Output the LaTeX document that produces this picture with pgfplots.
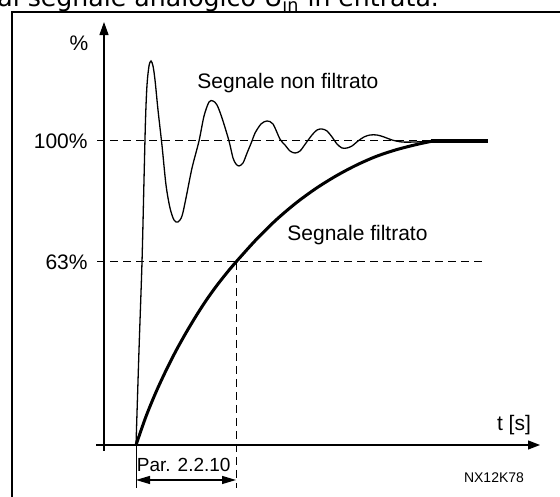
\documentclass[border=0pt]{standalone}
\usepackage{pgfplots}
\pgfplotsset{compat=1.18}
\usetikzlibrary{arrows.meta}
\usepackage{fontspec}
\setmainfont{Liberation Sans}
\newfontfamily\dejavu{DejaVu Sans}
\begin{document}
\begin{tikzpicture}
\useasboundingbox (0,0) rectangle (280pt,248pt);
\clip (0,0) rectangle (280pt,248pt);
\fill[white] (0,0) rectangle (280pt,248pt);
\begin{axis}[
  at={(0,0)}, anchor=south west,
  scale only axis, width=280pt, height=248pt,
  xmin=-1.36, xmax=4.24, ymin=-16.776, ymax=146.382,
  hide axis, clip=false,
]
% unfiltered signal
\addplot[black, line width=0.65pt, smooth, tension=0.5] coordinates {
(0,0) (0.03,31.25) (0.06,60.20) (0.08,87.17) (0.095,106.91) (0.11,118.42)
(0.13,124.67) (0.15,126.32) (0.17,124.67) (0.19,120.07) (0.22,110.20)
(0.26,98.5) (0.30,85.53) (0.34,77.96) (0.38,74.01) (0.42,73.36) (0.46,75.33)
(0.50,81.25) (0.56,91.1) (0.63,100) (0.68,108.2) (0.73,112.83) (0.77,113.16)
(0.81,111.84) (0.86,107.57) (0.93,100) (0.97,94.41) (1.00,92.43) (1.03,91.78)
(1.07,92.76) (1.11,96.0) (1.16,100) (1.19,102.6) (1.25,105.59) (1.31,106.58)
(1.37,105.59) (1.44,100.6) (1.49,98.68) (1.54,96.71) (1.59,96.05) (1.64,96.71)
(1.70,99.34) (1.76,101.97) (1.81,103.62) (1.86,103.95) (1.91,103.29)
(1.96,101.32) (2.01,99.01) (2.06,97.70) (2.11,97.70) (2.16,98.36) (2.22,100)
(2.28,101.32) (2.34,101.97) (2.41,101.97) (2.48,101.32) (2.56,100.33)
(2.66,99.67) (2.79,99.67) (2.97,100)
};
% filtered signal
\addplot[black, line width=1.5pt, smooth, tension=0.5] coordinates {
(0,0) (0.1,9.4) (0.2,17.4) (0.3,24.5) (0.4,31.0) (0.5,36.9) (0.6,42.4)
(0.7,47.5) (0.8,52.1) (0.9,56.3) (1.0,60.2) (1.2,67.5) (1.4,74.0) (1.6,79.6)
(1.8,84.4) (2.0,88.5) (2.2,92.0) (2.4,94.9) (2.6,97.1) (2.8,98.8) (2.97,100)
};
% settled value
\addplot[black, line width=2pt] coordinates {(2.95,100) (3.52,100)};
% axes
\draw[line width=0.6pt, -{Triangle[length=6.5pt,width=4.5pt]}] (axis cs:-0.32,-1.97) -- (axis cs:-0.32,139.14);
\draw[line width=0.6pt, -{Triangle[length=6pt,width=4.5pt]}] (axis cs:-0.40,0) -- (axis cs:4.04,0);
% reference lines
\draw[line width=0.5pt, dash pattern=on 4pt off 2.5pt] (axis cs:-0.39,100) -- (axis cs:2.96,100);
\draw[line width=0.5pt, dash pattern=on 4pt off 2.5pt] (axis cs:-0.39,60.2) -- (axis cs:3.49,60.2);
\draw[line width=0.5pt, dash pattern=on 4pt off 2.5pt] (axis cs:1.00,60.2) -- (axis cs:1.00,-14.14);
\draw[line width=0.5pt] (axis cs:0,0) -- (axis cs:0,-14.14);
\draw[line width=0.6pt, {Triangle[length=7pt,width=4pt]}-{Triangle[length=7pt,width=4pt]}] (axis cs:0,-11.51) -- (axis cs:1.00,-11.51);
% labels
\node[anchor=east, inner sep=0pt, font=\fontsize{10.5pt}{12pt}\selectfont] at (axis cs:-0.48,100) {100\%};
\node[anchor=east, inner sep=0pt, font=\fontsize{10.5pt}{12pt}\selectfont] at (axis cs:-0.48,60.2) {63\%};
\node[inner sep=0pt, font=\fontsize{10.5pt}{12pt}\selectfont] at (axis cs:-0.57,132.24) {\%};
\node[anchor=west, inner sep=0pt, font=\fontsize{10.5pt}{12pt}\selectfont] at (axis cs:0.61,119.08) {Segnale non filtrato};
\node[anchor=west, inner sep=0pt, font=\fontsize{10.5pt}{12pt}\selectfont] at (axis cs:1.51,69.08) {Segnale filtrato};
\node[inner sep=0pt, font=\fontsize{10.5pt}{12pt}\selectfont] at (axis cs:3.78,6.58) {t [s]};
\node[anchor=base west, inner sep=0pt, font=\fontsize{9.5pt}{11pt}\selectfont] at (axis cs:0.005,-8.88) {Par. 2.2.10};
\node[inner sep=0pt, font=\fontsize{7pt}{8pt}\selectfont] at (axis cs:3.58,-10.86) {NX12K78};
\end{axis}
\begin{scope}[x=0.5pt, y=-0.5pt, shift={(0pt,248pt)}]
\draw[line width=1.1pt] (12,500) -- (12,12) -- (570,12);
\node[anchor=base west, inner sep=0pt, font=\dejavu\fontsize{12.6pt}{14pt}\selectfont] at (-3,6.5) {al segnale analogico U\textsubscript{in} in entrata.};
\end{scope}
\end{tikzpicture}
\end{document}
